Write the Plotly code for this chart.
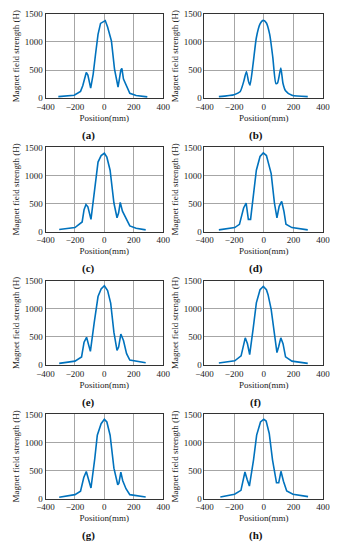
import plotly.graph_objects as go

# ---- data (Position in mm, magnet field strength H) ----
x_a = [-313, -205, -162, -147, -123, -112, -93, -76, -60, -43, -26, -4, 6, 22, 48, 69, 93, 112, 119, 130, 151, 173, 216, 292]
h_a = [30, 53, 123, 223, 459, 412, 180, 430, 782, 1135, 1330, 1365, 1380, 1265, 1018, 518, 200, 500, 530, 341, 223, 88, 50, 25]

x_b = [-303, -200, -160, -135, -117, -103, -93, -72, -50, -25, -3, 18, 40, 61, 82, 93, 115, 130, 147, 190, 297]
h_b = [29, 64, 115, 300, 477, 300, 233, 610, 1075, 1320, 1384, 1337, 1134, 727, 262, 273, 535, 262, 134, 52, 29]

x_c = [-307, -200, -151, -138, -125, -112, -91, -65, -43, -22, 0, 17, 39, 65, 86, 97, 108, 123, 147, 173, 216, 281]
h_c = [35, 70, 170, 390, 480, 440, 216, 800, 1238, 1354, 1395, 1325, 1092, 508, 245, 333, 520, 362, 228, 100, 58, 29]

x_d = [-303, -196, -164, -136, -119, -104, -89, -68, -50, -25, -3, 18, 50, 72, 89, 104, 121, 136, 150, 190, 297]
h_d = [29, 70, 128, 420, 508, 216, 216, 683, 1092, 1337, 1400, 1354, 1033, 508, 245, 450, 537, 362, 128, 70, 29]

x_e = [-307, -200, -155, -138, -121, -95, -69, -43, -22, 0, 22, 43, 65, 86, 97, 112, 130, 151, 173, 281]
h_e = [29, 70, 145, 407, 494, 244, 756, 1221, 1355, 1413, 1326, 1105, 581, 262, 320, 552, 436, 203, 87, 41]

x_f = [-303, -196, -153, -125, -110, -95, -72, -50, -25, -3, 18, 29, 50, 72, 89, 100, 115, 130, 147, 190, 297]
h_f = [35, 76, 163, 485, 380, 187, 642, 1109, 1343, 1401, 1343, 1255, 992, 525, 222, 321, 485, 380, 146, 70, 29]

x_g = [-307, -200, -162, -140, -123, -112, -91, -65, -48, -22, 0, 17, 39, 65, 91, 99, 112, 125, 147, 173, 281]
h_g = [24, 70, 130, 376, 482, 394, 188, 717, 1129, 1335, 1412, 1365, 1129, 541, 247, 276, 470, 318, 176, 70, 29]

x_h = [-293, -197, -154, -127, -112, -97, -69, -48, -22, 0, 16, 37, 59, 86, 101, 116, 133, 155, 197, 299]
h_h = [29, 76, 146, 474, 340, 223, 691, 1131, 1365, 1412, 1383, 1160, 691, 281, 281, 486, 310, 135, 76, 35]

panel_labels = ["(a)", "(b)", "(c)", "(d)", "(e)", "(f)", "(g)", "(h)"]
x_ticks = [-400, -200, 0, 200, 400]
y_ticks = [0, 500, 1000, 1500]
x_title = "Position(mm)"
y_title = "Magnet field strength (H)"

series = [(x_a, h_a), (x_b, h_b), (x_c, h_c), (x_d, h_d),
          (x_e, h_e), (x_f, h_f), (x_g, h_g), (x_h, h_h)]

# ---- layout geometry (pixels) ----
W, H = 345, 550
col_x = [(38.3, 161.7), (205.0, 329.3)]
row_y = [(9.0, 95.0), (145.0, 230.7), (281.0, 366.7), (417.0, 502.7)]
label_x = [83, 259]

FONT = "Liberation Serif, Times New Roman, serif"
TXT = "#1a1a1a"
LINE = "#0072BD"
GRID = "#a6a6a6"
AX = "#333333"

fig = go.Figure()
layout = dict(
    width=W, height=H,
    margin=dict(l=0, r=0, t=0, b=0),
    paper_bgcolor="white", plot_bgcolor="white",
    showlegend=False,
    font=dict(family=FONT, size=9, color=TXT),
)
annotations = []

for i, (xs, hs) in enumerate(series):
    r, c = divmod(i, 2)
    n = i + 1
    xa = "x" if n == 1 else f"x{n}"
    ya = "y" if n == 1 else f"y{n}"
    fig.add_trace(go.Scatter(
        x=xs, y=hs, mode="lines", xaxis=xa, yaxis=ya,
        line=dict(color=LINE, width=1.6, shape="spline" if i == 1 else "linear",
                  smoothing=0.6),
        hoverinfo="skip",
    ))
    x0, x1 = col_x[c]
    y0, y1 = row_y[r]
    xkey = "xaxis" if n == 1 else f"xaxis{n}"
    ykey = "yaxis" if n == 1 else f"yaxis{n}"
    layout[xkey] = dict(
        domain=[x0 / W, x1 / W], anchor=ya, range=[-400, 400],
        tickvals=x_ticks, showgrid=True, gridcolor=GRID, gridwidth=1,
        zeroline=False, showline=True, linecolor=AX, linewidth=1, mirror=True,
        ticks="", tickfont=dict(family=FONT, size=9, color=TXT),
        title=dict(text=x_title, font=dict(family=FONT, size=9, color=TXT), standoff=3),
        fixedrange=True,
    )
    layout[ykey] = dict(
        domain=[1 - y1 / H, 1 - y0 / H], anchor=xa, range=[0, 1500],
        tickvals=y_ticks, showgrid=True, gridcolor=GRID, gridwidth=1,
        zeroline=False, showline=True, linecolor=AX, linewidth=1, mirror=True,
        ticks="", tickfont=dict(family=FONT, size=9, color=TXT),
        title=dict(text=y_title, font=dict(family=FONT, size=9, color=TXT), standoff=3),
        fixedrange=True,
    )
    annotations.append(dict(
        text=f"<b>{panel_labels[i]}</b>", x=label_x[c] / W, y=1 - (y1 + 38) / H,
        xref="paper", yref="paper", showarrow=False, xanchor="center", yanchor="middle",
        font=dict(family=FONT, size=11, color="#111"),
    ))

layout["annotations"] = annotations
fig.update_layout(**layout)
fig.write_html(
    "out.html",
    config={"displayModeBar": False, "staticPlot": True},
    post_script="document.body.style.margin='0';document.body.style.overflow='hidden';",
)
